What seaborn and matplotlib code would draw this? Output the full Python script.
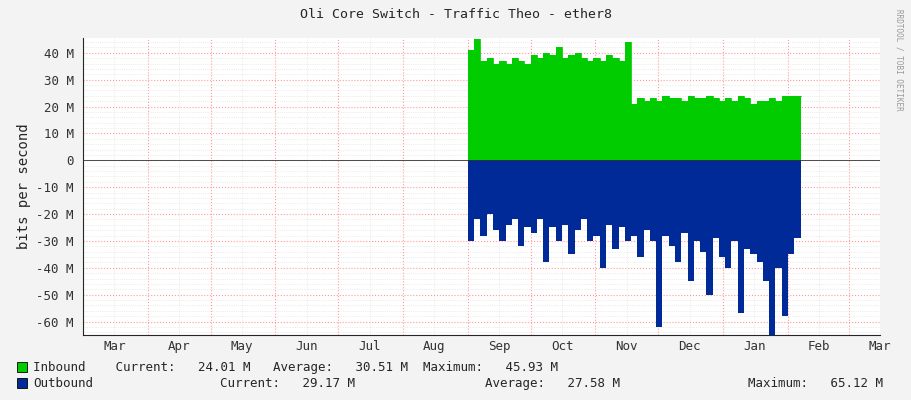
import numpy as np
import pandas as pd
import matplotlib
matplotlib.use("Agg")
import matplotlib.pyplot as plt
import matplotlib.dates as mdates
import seaborn as sns

# Data (Mbit/s), every 3 days from 2015-09-01
inbound = [41, 45, 37, 38, 36, 37, 36, 38, 37, 36, 39, 38, 40, 39, 42, 38, 39, 40, 38, 37,
           38, 37, 39, 38, 37, 44, 21, 23, 22, 23, 22, 24, 23, 23, 22, 24, 23, 23, 24, 23,
           22, 23, 22, 24, 23, 21, 22, 22, 23, 22, 24, 24, 24, 24]
outbound = [-30, -22, -28, -20, -26, -30, -24, -22, -32, -25, -27, -22, -38, -25, -30, -24, -35, -26, -22, -30,
            -28, -40, -24, -33, -25, -30, -28, -36, -26, -30, -62, -28, -32, -38, -27, -45, -30, -34, -50, -29,
            -36, -40, -30, -57, -33, -35, -38, -45, -65, -40, -58, -35, -29, -29]
dates = pd.date_range("2015-09-01", periods=len(inbound), freq="3D")
df = pd.DataFrame({"date": dates, "inbound": inbound, "outbound": outbound})

sns.set_style("white")
plt.rcParams["font.family"] = ["DejaVu Sans Mono"]
fig = plt.figure(figsize=(9.11, 4.0), dpi=100, facecolor="#F3F3F3")
ax = fig.add_axes([0.091, 0.1625, 0.875, 0.7425])
ax.set_facecolor("white")
ax.set_axisbelow(True)

ax.fill_between(df["date"], 0, df["inbound"], step="post", color="#00CC00", lw=0, zorder=3)
ax.fill_between(df["date"], 0, df["outbound"], step="post", color="#002A97", lw=0, zorder=3)
sns.lineplot(data=df, x="date", y="inbound", drawstyle="steps-post", color="#00CC00", lw=0.6, ax=ax, zorder=3)

ax.set_xlim(pd.Timestamp("2015-03-01"), pd.Timestamp("2016-03-16"))
ax.set_ylim(-65, 45.5)
yt = np.arange(-60, 50, 10)
ax.set_yticks(yt)
ax.set_yticklabels([f"{v} M" if v != 0 else "0" for v in yt], fontsize=9)
ax.yaxis.set_minor_locator(matplotlib.ticker.MultipleLocator(2))
ax.xaxis.set_major_locator(mdates.MonthLocator())
ax.xaxis.set_minor_locator(mdates.MonthLocator(bymonthday=16))
ax.xaxis.set_major_formatter(matplotlib.ticker.NullFormatter())
ax.xaxis.set_minor_formatter(mdates.DateFormatter("%b"))
ax.tick_params(axis="x", which="minor", length=0, labelsize=9, colors="#333")
ax.tick_params(axis="x", which="major", length=3)
ax.tick_params(axis="y", labelsize=9, colors="#333", length=3)
ax.grid(True, which="major", color="#FF9999", ls=":", lw=0.8)
ax.grid(True, which="minor", color="#DDDDDD", ls=":", lw=0.5)
for s in ["top", "right"]:
    ax.spines[s].set_visible(False)
ax.set_xlabel("")
ax.set_ylabel("bits per second", fontsize=10)
ax.axhline(0, color="#333", lw=0.6, zorder=4)

fig.text(0.5, 0.965, "Oli Core Switch - Traffic Theo - ether8", ha="center", va="center", fontsize=9.5)
fig.text(0.987, 0.85, "RRDTOOL / TOBI OETIKER", rotation=270, ha="center", va="center", fontsize=5.5, color="#999")

fig.patches.append(matplotlib.patches.Rectangle((0.019, 0.069), 0.011, 0.027, transform=fig.transFigure, facecolor="#00CC00", edgecolor="black", lw=0.6))
fig.patches.append(matplotlib.patches.Rectangle((0.019, 0.029), 0.011, 0.027, transform=fig.transFigure, facecolor="#002A97", edgecolor="black", lw=0.6))
fig.text(0.036, 0.082, "Inbound    Current:   24.01 M   Average:   30.51 M  Maximum:   45.93 M", fontsize=9, va="center")
fig.text(0.036, 0.042, "Outbound", fontsize=9, va="center")
fig.text(0.242, 0.042, "Current:   29.17 M", fontsize=9, va="center")
fig.text(0.532, 0.042, "Average:   27.58 M", fontsize=9, va="center")
fig.text(0.821, 0.042, "Maximum:   65.12 M", fontsize=9, va="center")
fig.savefig("out.png", dpi=100, facecolor=fig.get_facecolor())
